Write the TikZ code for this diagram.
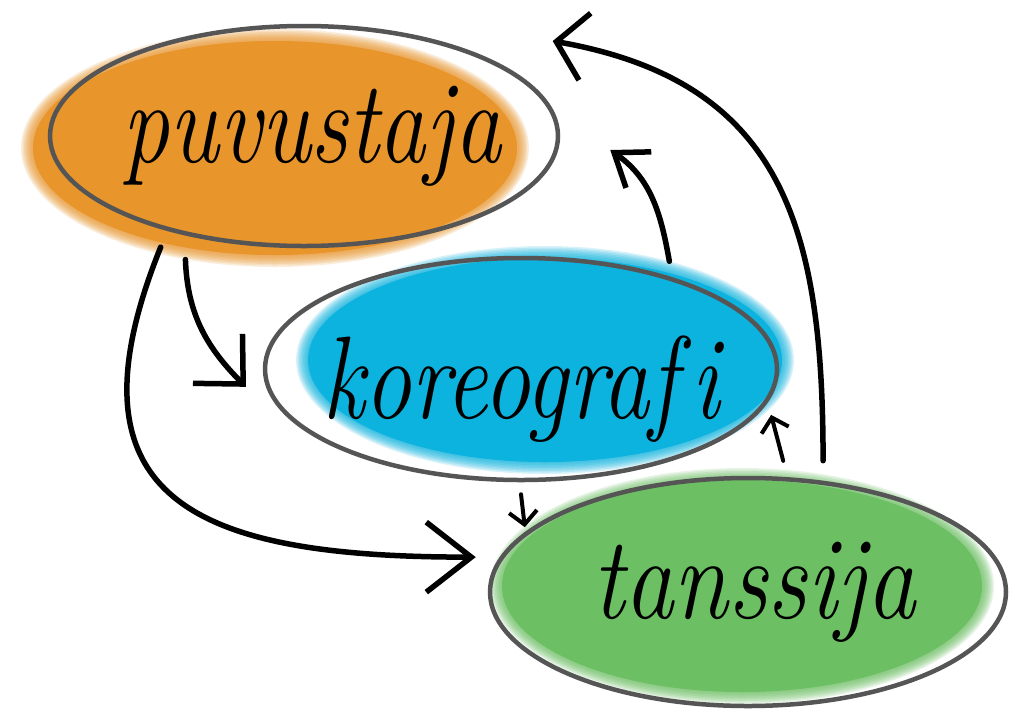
\documentclass[tikz,border=0pt]{standalone}
\usepackage{fontspec}
\setmainfont{Latin Modern Roman}[Ligatures={TeX,NoCommon}]
\usepackage{tikz}
\usetikzlibrary{arrows.meta}
\usetikzlibrary{shapes.geometric}
\usetikzlibrary{backgrounds}
\definecolor{puvu}{HTML}{E8952B}
\definecolor{kore}{HTML}{0DB3DF}
\definecolor{tanssi}{HTML}{6CBF63}
\definecolor{rim}{HTML}{555555}
\tikzstyle{bubble}=[draw=rim,line width=4.5pt,ellipse,inner sep=0pt]
\tikzstyle{word}=[font=\fontsize{94}{94}\itshape]
\tikzset{flow/.style 2 args={line width=5.5pt,line cap=round,-{Straight Barb[length=#1,width=#2]}}}
\tikzstyle{tinyflow}=[line width=4pt,line cap=round,-{Straight Barb[length=13pt,width=28pt]}]

\begin{document}
\begin{tikzpicture}[x=1pt,y=-1pt]
\useasboundingbox (0,0) rectangle (1024,721);
\node [bubble,minimum width=508pt,minimum height=220pt,label={[word,xshift=8pt]center:\scalebox{1}[1.25]{puvustaja}}] (p) at (304,136) {};
\node [bubble,minimum width=512pt,minimum height=222pt,label={[word,yshift=-20pt]center:\scalebox{1}[1.25]{koreograf\kern14pt i}}] (k) at (521,369) {};
\node [bubble,minimum width=516pt,minimum height=228pt,label={[word,xshift=6pt]center:\scalebox{1.05}[1.25]{tanssija}}] (t) at (748,592) {};
\begin{scope}[on background layer]
\fill[white] (0,0) rectangle (1024,721);
\foreach \c/\n/\dx/\dy/\a/\b in {puvu/p/-29/-12/250/115, kore/k/24/9/245/110, tanssi/t/-6/6/248/114}{
  \fill[\c] ([shift={(\dx pt,\dy pt)}]\n.center) ellipse [x radius=\a pt-8pt, y radius=\b pt-8pt];
  \foreach \g in {1,...,8}
    \fill[\c,opacity=.16] ([shift={(\dx pt,\dy pt)}]\n.center) ellipse [x radius=\a pt-8pt+1.5*\g pt, y radius=\b pt-8pt+1.5*\g pt];
}
\end{scope}
\draw[flow={36pt}{70pt}] ([yshift=-24pt]p.-140) to[out=-88,in=135] ([xshift=-20pt]k.-176);
\draw[flow={45pt}{70pt}] ([yshift=-18pt]p.-147) to[out=-112,in=180,looseness=1.6] ([xshift=-24pt]t.172);
\draw[tinyflow] ([yshift=-12pt]k.-90) -- ([yshift=5pt]t.165);
\draw[tinyflow] ([yshift=16pt]t.73) -- ([xshift=14pt]k.-11);
\draw[flow={30pt}{44pt}] ([yshift=15pt]k.32) to[out=100,in=-35] ([shift={(50pt,-14pt)}]p.east);
\draw[flow={29pt}{68pt}] ([yshift=20pt]t.56) to[out=90,in=-10,looseness=1.2] ([shift={(56pt,21pt)}]p.21);
\end{tikzpicture}
\end{document}
